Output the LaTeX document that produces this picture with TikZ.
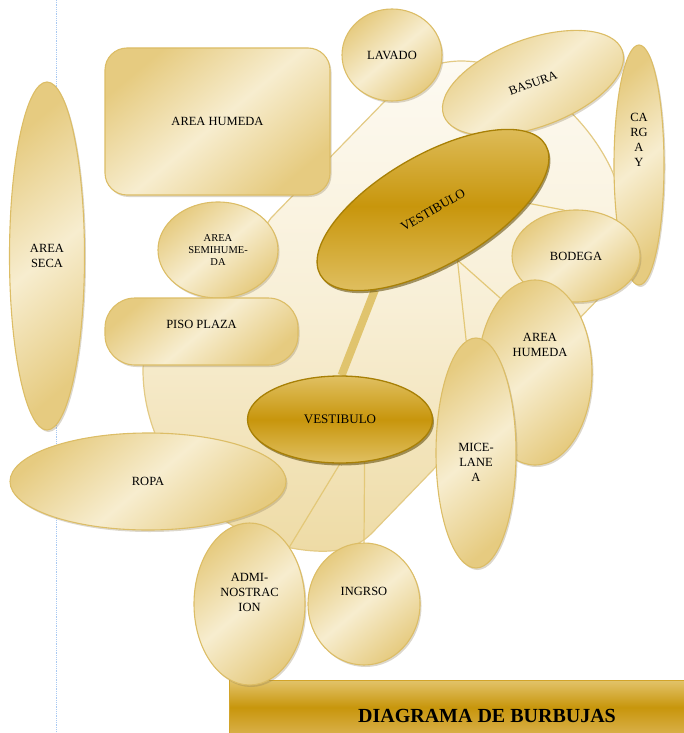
\documentclass[tikz,border=0pt]{standalone}
\usepackage{fontspec}
\setmainfont{Liberation Serif}
\usetikzlibrary{shapes.geometric,shadows,backgrounds}
\definecolor{bubdark}{HTML}{E6CB80}
\definecolor{bublight}{HTML}{F7EDCF}
\definecolor{bubline}{HTML}{DCBD66}
\definecolor{vestdark}{HTML}{C8960C}
\definecolor{vestlight}{HTML}{E0C062}
\definecolor{vestline}{HTML}{A88006}
\definecolor{vestshadow}{HTML}{5A4500}
\definecolor{shadowcol}{HTML}{8A7A55}
\definecolor{linkcol}{HTML}{E3C878}
\definecolor{trunkcol}{HTML}{E0C46E}
\definecolor{halotop}{HTML}{FDFAF2}
\definecolor{halomid}{HTML}{F8EFD6}
\definecolor{halobot}{HTML}{EEDBA5}
\definecolor{haloline}{HTML}{E3CA84}
\definecolor{guideblue}{HTML}{A9C9F2}
\definecolor{bartop}{HTML}{E2C36A}
\definecolor{barbot}{HTML}{D9B04A}
\definecolor{barline}{HTML}{D2A42A}
\tikzset{
  bubble/.style={ellipse, draw=bubline, line width=1.1pt, top color=bubdark, bottom color=bubdark, middle color=bublight, shading angle=40, inner sep=0pt, align=center, font=\fontsize{12.5}{15}\selectfont, drop shadow={shadow xshift=1.5pt, shadow yshift=-2pt, opacity=0.3, fill=shadowcol}},
  roundbox/.style={bubble, rectangle, rounded corners=22pt},
  vestibule/.style={ellipse, draw=vestline, line width=1.3pt, top color=vestlight, bottom color=vestlight, middle color=vestdark, inner sep=0pt, align=center, font=\fontsize{13}{15}\selectfont, drop shadow={shadow xshift=1.5pt, shadow yshift=-2.5pt, opacity=0.55, fill=vestshadow}},
  txt/.style={align=center, inner sep=0pt, font=\fontsize{12.5}{15}\selectfont},
  link/.style={draw=linkcol, line width=1.2pt},
  trunk/.style={draw=trunkcol, line width=8pt},
  halo/.style={draw=haloline, line width=1.2pt, top color=halotop, bottom color=halobot, middle color=halomid},
  guide/.style={draw=guideblue, densely dotted, line width=0.8pt},
  titlebar/.style={rectangle, draw=barline, line width=0.8pt, top color=bartop, bottom color=barbot, middle color=vestdark, inner sep=0pt},
  titletext/.style={font=\bfseries\fontsize{20}{24}\selectfont, inner sep=0pt}
}
\begin{document}
\begin{tikzpicture}[x=1pt, y=-1pt]
  \useasboundingbox (0,0) rectangle (683,733);

  % zonas
  \node[bubble, minimum width=75pt, minimum height=348pt] (seca) at (47,256) {AREA\\SECA};
  \node[bubble, minimum width=120pt, minimum height=96pt, font=\fontsize{10.5}{12}\selectfont] (semi) at (218,250) {AREA\\SEMIHUME-\\DA};
  \node[roundbox, minimum width=225pt, minimum height=147pt] (humeda) at (217.5,121.5) {AREA HUMEDA};
  \node[roundbox, rounded corners=30pt, minimum width=193pt, minimum height=67pt, label={[txt, yshift=7pt]center:{PISO PLAZA}}] (piso) at (201.5,331.5) {};
  \node[bubble, minimum width=100pt, minimum height=92pt] (lavado) at (392,55) {LAVADO};
  \node[bubble, rotate=20, minimum width=190pt, minimum height=88pt] (basura) at (533,83) {BASURA};
  \node[bubble, minimum width=50pt, minimum height=240pt, label={[txt, yshift=25pt]center:{CA\\RG\\A\\Y}}] (carga) at (639,165) {};
  \node[bubble, minimum width=128pt, minimum height=92pt] (bodega) at (576,256) {BODEGA};
  \node[bubble, minimum width=114pt, minimum height=185pt, label={[txt, xshift=5pt, yshift=28pt]center:{AREA\\HUMEDA}}] (humeda2) at (535,372.5) {};
  \node[bubble, minimum width=80pt, minimum height=230pt, label={[txt, yshift=-9pt]center:{MICE-\\LANE\\A}}] (micel) at (476,453) {};
  \node[vestibule, rotate=30, minimum width=260pt, minimum height=110pt] (vest1) at (433,210) {VESTIBULO};
  \node[vestibule, minimum width=185pt, minimum height=87pt] (vest2) at (340,419.5) {VESTIBULO};
  \node[bubble, minimum width=276pt, minimum height=97pt] (ropa) at (148,481.5) {ROPA};
  \node[titlebar, anchor=north west, minimum width=460pt, minimum height=54pt] (bar) at (229,680) {};
  \node[titletext] (title) at (487,716) {DIAGRAMA DE BURBUJAS};
  \node[bubble, minimum width=111pt, minimum height=162pt, label={[txt, yshift=12pt]center:{ADMI-\\NOSTRAC\\ION}}] (admin) at (249.5,604) {};
  \node[bubble, minimum width=112pt, minimum height=122pt, label={[txt, yshift=13pt]center:INGRSO}] (ingreso) at (364,604) {};

  \begin{scope}[on background layer]
    \draw[guide] (56,0) -- (56,733);
    % fondo
    \draw[halo] (271,218) -- (384,102) .. controls (410,74) and (430,61) .. (462,61)
      .. controls (530,62) and (590,120) .. (613,173)
      .. controls (625,205) and (625,260) .. (605,292) -- (372,533)
      .. controls (355,550) and (335,552) .. (315,551)
      .. controls (215,545) and (143,460) .. (143,370)
      .. controls (143,330) and (190,305) .. (215,298) -- cycle;
    % enlaces
    \draw[link] (vest1.-26) -- (bodega.104);
    \draw[link] (vest1.-94) -- (micel.95);
    \draw[link] (vest1.-94) -- (humeda2.115);
    \draw[trunk] (vest1.204) -- (vest2.88);
    \draw[link] (vest2.-90) -- (admin.55);
    \draw[link] (vest2.-60) -- (ingreso.90);
  \end{scope}
\end{tikzpicture}
\end{document}
